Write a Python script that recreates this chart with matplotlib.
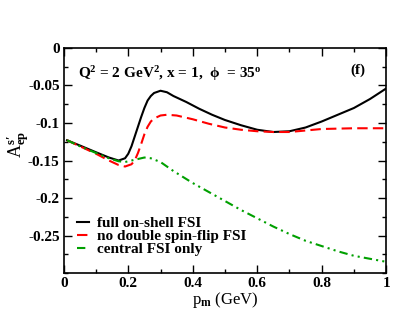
import matplotlib
matplotlib.use("Agg")
import matplotlib.pyplot as plt
from matplotlib.ticker import MultipleLocator

plt.rcParams['font.family'] = ['Liberation Serif', 'DejaVu Serif']
plt.rcParams['font.weight'] = 'bold'
plt.rcParams['mathtext.fontset'] = 'custom'
plt.rcParams['mathtext.rm'] = 'Liberation Serif:bold'
plt.rcParams['mathtext.it'] = 'Liberation Serif:bold'
plt.rcParams['mathtext.bf'] = 'Liberation Serif:bold'

# full on-shell FSI
x_full = [0.01, 0.05, 0.10, 0.14, 0.17, 0.19, 0.20, 0.21, 0.22, 0.23, 0.24, 0.25, 0.26,
          0.27, 0.28, 0.30, 0.32, 0.34, 0.38, 0.42, 0.46, 0.50, 0.55, 0.60, 0.65, 0.70,
          0.75, 0.80, 0.85, 0.90, 0.95, 1.00]
y_full = [-0.123, -0.130, -0.139, -0.146, -0.150, -0.147, -0.141, -0.131, -0.118, -0.105,
          -0.092, -0.080, -0.070, -0.064, -0.060, -0.057, -0.059, -0.064, -0.072, -0.081,
          -0.089, -0.096, -0.103, -0.109, -0.112, -0.111, -0.106, -0.098, -0.089, -0.080,
          -0.068, -0.054]

# no double spin-flip FSI
x_nods = [0.01, 0.05, 0.10, 0.14, 0.17, 0.19, 0.21, 0.22, 0.23, 0.24, 0.25, 0.26, 0.27,
          0.28, 0.30, 0.32, 0.35, 0.40, 0.45, 0.50, 0.55, 0.60, 0.65, 0.70, 0.75, 0.80,
          0.90, 1.00]
y_nods = [-0.123, -0.131, -0.141, -0.150, -0.156, -0.158, -0.155, -0.150, -0.140, -0.128,
          -0.115, -0.105, -0.098, -0.094, -0.090, -0.089, -0.090, -0.095, -0.101, -0.106,
          -0.109, -0.111, -0.112, -0.112, -0.110, -0.108, -0.107, -0.107]

# central FSI only
x_cent = [0.01, 0.05, 0.10, 0.14, 0.17, 0.19, 0.21, 0.23, 0.25, 0.27, 0.30, 0.34, 0.40,
          0.45, 0.50, 0.55, 0.60, 0.65, 0.70, 0.75, 0.80, 0.85, 0.90, 0.95, 1.00]
y_cent = [-0.123, -0.131, -0.140, -0.147, -0.151, -0.152, -0.150, -0.148, -0.146, -0.147,
          -0.152, -0.164, -0.180, -0.192, -0.204, -0.216, -0.227, -0.238, -0.248, -0.257,
          -0.264, -0.271, -0.277, -0.281, -0.285]

labels = ["full on-shell FSI", "no double spin-flip FSI", "central FSI only"]
xticks = [0, 0.2, 0.4, 0.6, 0.8, 1.0]
xticklabels = ['0', '0.2', '0.4', '0.6', '0.8', '1']
yticks = [0, -0.05, -0.1, -0.15, -0.2, -0.25]
yticklabels = ['0', '-0.05', '-0.1', '-0.15', '-0.2', '-0.25']

fig = plt.figure(figsize=(4.17, 3.22), dpi=100)
ax = fig.add_axes([0.153, 0.152, 0.773, 0.699])

ax.plot(x_full, y_full, color='black', lw=1.5, label=labels[0])
ax.plot(x_nods, y_nods, color='#ff0000', lw=1.5, dashes=(5, 2.5), label=labels[1])
ax.plot(x_cent, y_cent, color='#00a000', lw=1.5, dashes=(4, 2, 1, 2, 1, 2), label=labels[2])

ax.set_xlim(0, 1)
ax.set_ylim(-0.3, 0)
ax.set_xticks(xticks)
ax.set_xticklabels(xticklabels)
ax.set_yticks(yticks)
ax.set_yticklabels(yticklabels)
ax.xaxis.set_minor_locator(MultipleLocator(0.1))
ax.yaxis.set_minor_locator(MultipleLocator(0.025))
ax.tick_params(which='both', direction='in', top=True, right=True, labelsize=11, pad=3)
ax.tick_params(which='major', length=6, width=1)
ax.tick_params(which='minor', length=3, width=1)
for s in ax.spines.values():
    s.set_linewidth(1.2)

ax.set_xlabel(r"p$_{\mathrm{m}}$ (GeV)", fontsize=12, labelpad=0)
ax.set_ylabel("A$^{\\mathrm{s\u2032}}_{\\mathrm{ep}}$", fontsize=13)
ax.yaxis.set_label_coords(-0.1, 0.57)

ax.text(0.045, 0.885, r"Q$^{2}$ = 2 GeV$^{2}$, x = 1,  $\phi$  = 35$^{\mathrm{o}}$",
        transform=ax.transAxes, fontsize=11, va='center', ha='left')
ax.text(0.935, 0.9, "(f)", transform=ax.transAxes, fontsize=11, va='center', ha='right')

leg = ax.legend(loc='lower left', bbox_to_anchor=(0.04, 0.075), frameon=False, fontsize=11,
                handlelength=0.8, handletextpad=0.5, labelspacing=-0.05, borderaxespad=0,
                borderpad=0)

fig.savefig("out.png", dpi=100)
